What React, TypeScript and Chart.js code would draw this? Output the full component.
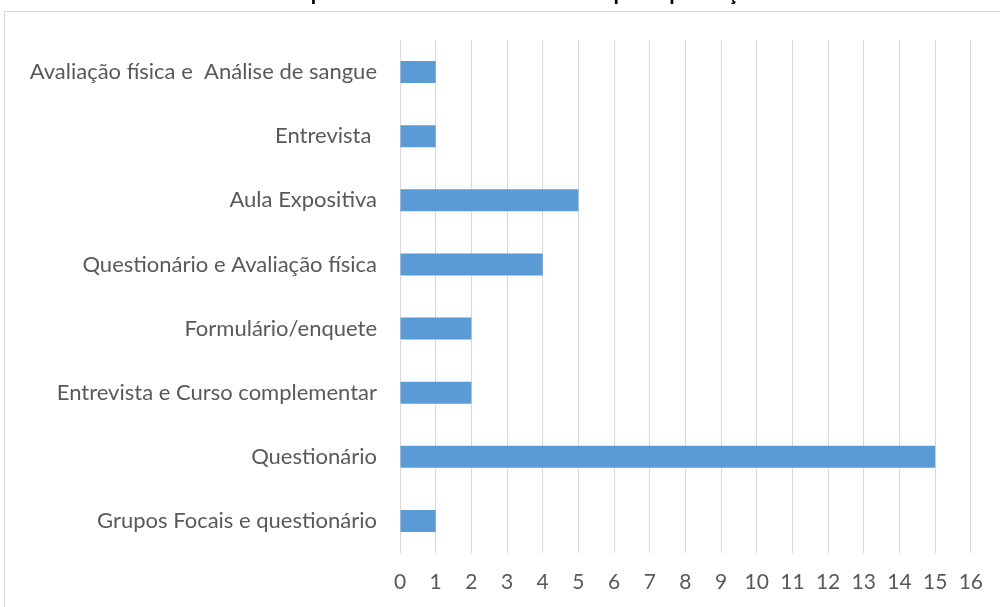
import React, { useEffect, useRef } from "react";
import { Chart, registerables } from "chart.js";

Chart.register(...registerables);

const categories = [
  "Avaliação física e  Análise de sangue",
  "Entrevista ",
  "Aula Expositiva",
  "Questionário e Avaliação física",
  "Formulário/enquete",
  "Entrevista e Curso complementar",
  "Questionário",
  "Grupos Focais e questionário",
];
const values = [1, 1, 5, 4, 2, 2, 15, 1];
const xMin = 0;
const xMax = 16;
const titleText = "Gráfico 3 – Mapa dos instrumentos utilizados pelas produções acadêmicas";

const FONT = "Lato, 'Open Sans', sans-serif";

const framePlugin = {
  id: "frame",
  beforeDraw(chart: any) {
    const ctx = chart.ctx;
    ctx.save();
    ctx.fillStyle = "#ffffff";
    ctx.fillRect(0, 0, chart.width, chart.height);
    ctx.strokeStyle = "#D9D9D9";
    ctx.lineWidth = 1;
    ctx.strokeRect(4.5, 11.5, chart.width + 20, chart.height + 20);
    ctx.fillStyle = "#000000";
    ctx.font = "bold 22px " + FONT;
    ctx.textAlign = "center";
    ctx.textBaseline = "alphabetic";
    ctx.fillText(titleText, 528, 0);
    ctx.restore();
  },
};

export default function App() {
  const ref = useRef<HTMLCanvasElement | null>(null);
  useEffect(() => {
    document.body.style.margin = "0";
    const chart = new Chart(ref.current!, {
      type: "bar",
      data: {
        labels: categories,
        datasets: [
          {
            data: values,
            backgroundColor: "#5B9BD5",
            borderWidth: 0,
            categoryPercentage: 1,
            barPercentage: 0.345,
          },
        ],
      },
      options: {
        indexAxis: "y",
        animation: false,
        responsive: false,
        layout: { padding: { top: 40, right: 29, left: 0, bottom: 0 } },
        plugins: { legend: { display: false }, tooltip: { enabled: false }, title: { display: false } },
        scales: {
          x: {
            min: xMin,
            max: xMax,
            ticks: { stepSize: 1, color: "#595959", font: { family: FONT, size: 21 }, padding: 17 },
            grid: { color: "#D9D9D9", drawTicks: false },
            border: { display: false },
            afterFit(scale: any) {
              scale.height = 54;
            },
          },
          y: {
            ticks: { color: "#595959", font: { family: FONT, size: 22 }, padding: 23 },
            grid: { display: false, drawTicks: false },
            border: { display: false },
            afterFit(scale: any) {
              scale.width = 400;
            },
          },
        },
      },
      plugins: [framePlugin],
    });
    return () => chart.destroy();
  }, []);
  return (
    <div style={{ width: 1000, height: 607 }}>
      <canvas ref={ref} width={1000} height={607} />
    </div>
  );
}
